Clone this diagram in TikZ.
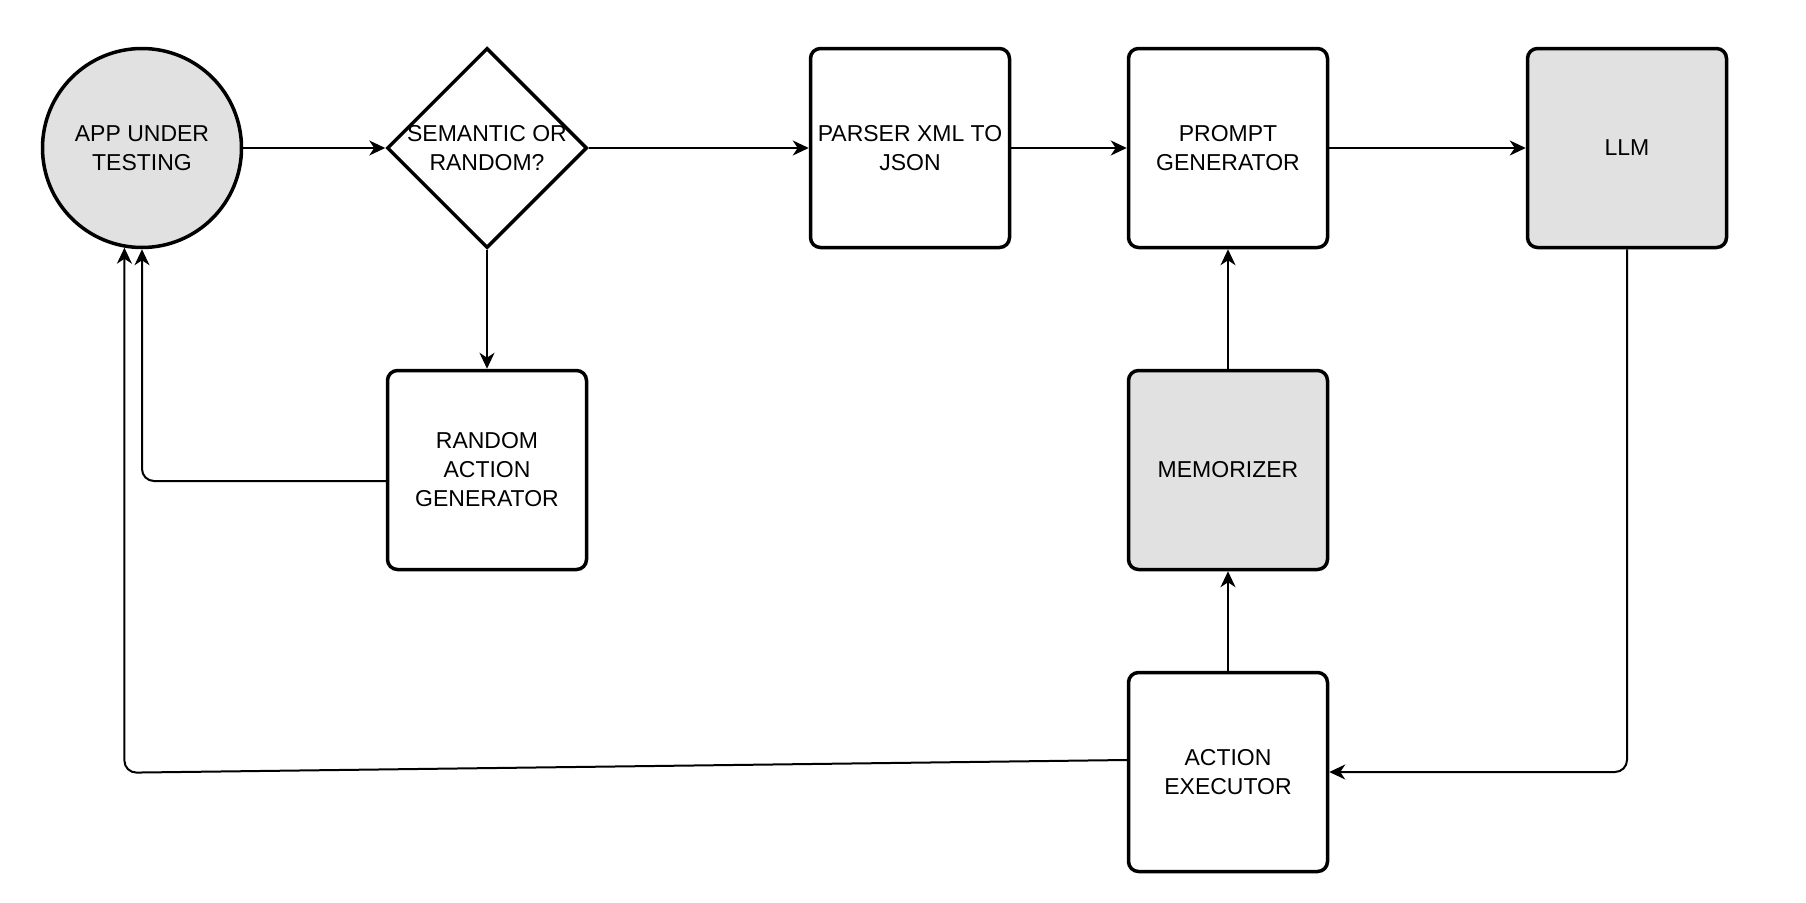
\documentclass[tikz,border=0pt]{standalone}
\usepackage{fontspec}
\setmainfont{Liberation Sans}
\usetikzlibrary{shapes.geometric,arrows.meta}

\begin{document}
\begin{tikzpicture}[x=1pt,y=-1pt,
  mybox/.style={draw,line width=3.5pt,rounded corners=10pt,minimum size=199pt,inner sep=2pt,align=center,font=\fontsize{23}{29}\selectfont},
  mycirc/.style={circle,draw,line width=3.5pt,minimum size=199pt,inner sep=2pt,align=center,font=\fontsize{23}{29}\selectfont},
  mydiam/.style={diamond,draw,line width=3.5pt,minimum width=200pt,minimum height=200pt,inner sep=-12pt,align=center,font=\fontsize{23}{29}\selectfont},
  myarrow/.style={line width=2pt,rounded corners=12pt,-{Stealth[length=16pt,width=15pt,inset=5pt]}}]
\useasboundingbox (0,0) rectangle (1806,902);
\definecolor{shade}{HTML}{E1E1E1}
\node [mycirc,fill=shade] (app) at (142,148) {APP UNDER\\TESTING};
\node [mydiam] (choice) at (487,148) {SEMANTIC OR\\RANDOM?};
  \foreach \nm/\crlr/\txt/\xpos in {parser/white/{PARSER XML TO\\JSON}/910,prompt/white/{PROMPT\\GENERATOR}/1228,llm/shade/LLM/1627}
  {  \node [mybox,fill=\crlr] (\nm) at (\xpos,148) {\txt};}
\node [mybox] (random) at (487,470) {RANDOM\\ACTION\\GENERATOR};
\node [mybox,fill=shade] (mem) at (1228,470) {MEMORIZER};
\node [mybox] (executor) at (1228,772) {ACTION\\EXECUTOR};
\path (app.260) ++(0,525) coordinate (turn);
% main flow
\draw [myarrow] (app) -- (choice);
\draw [myarrow] (choice) -- (parser);
\draw [myarrow] (parser) -- (prompt);
\draw [myarrow] (prompt) -- (llm);
\draw [myarrow] (choice) -- (random);
% feedback
\draw [myarrow] ([yshift=-11pt]random.west) -| (app.south);
\draw [myarrow] (llm.south) |- (executor.east);
\draw [myarrow] (executor) -- (mem);
\draw [myarrow] (mem) -- (prompt);
\draw [myarrow] ([yshift=12pt]executor.west) -- (turn) -- (app.260);
\end{tikzpicture}
\end{document}
